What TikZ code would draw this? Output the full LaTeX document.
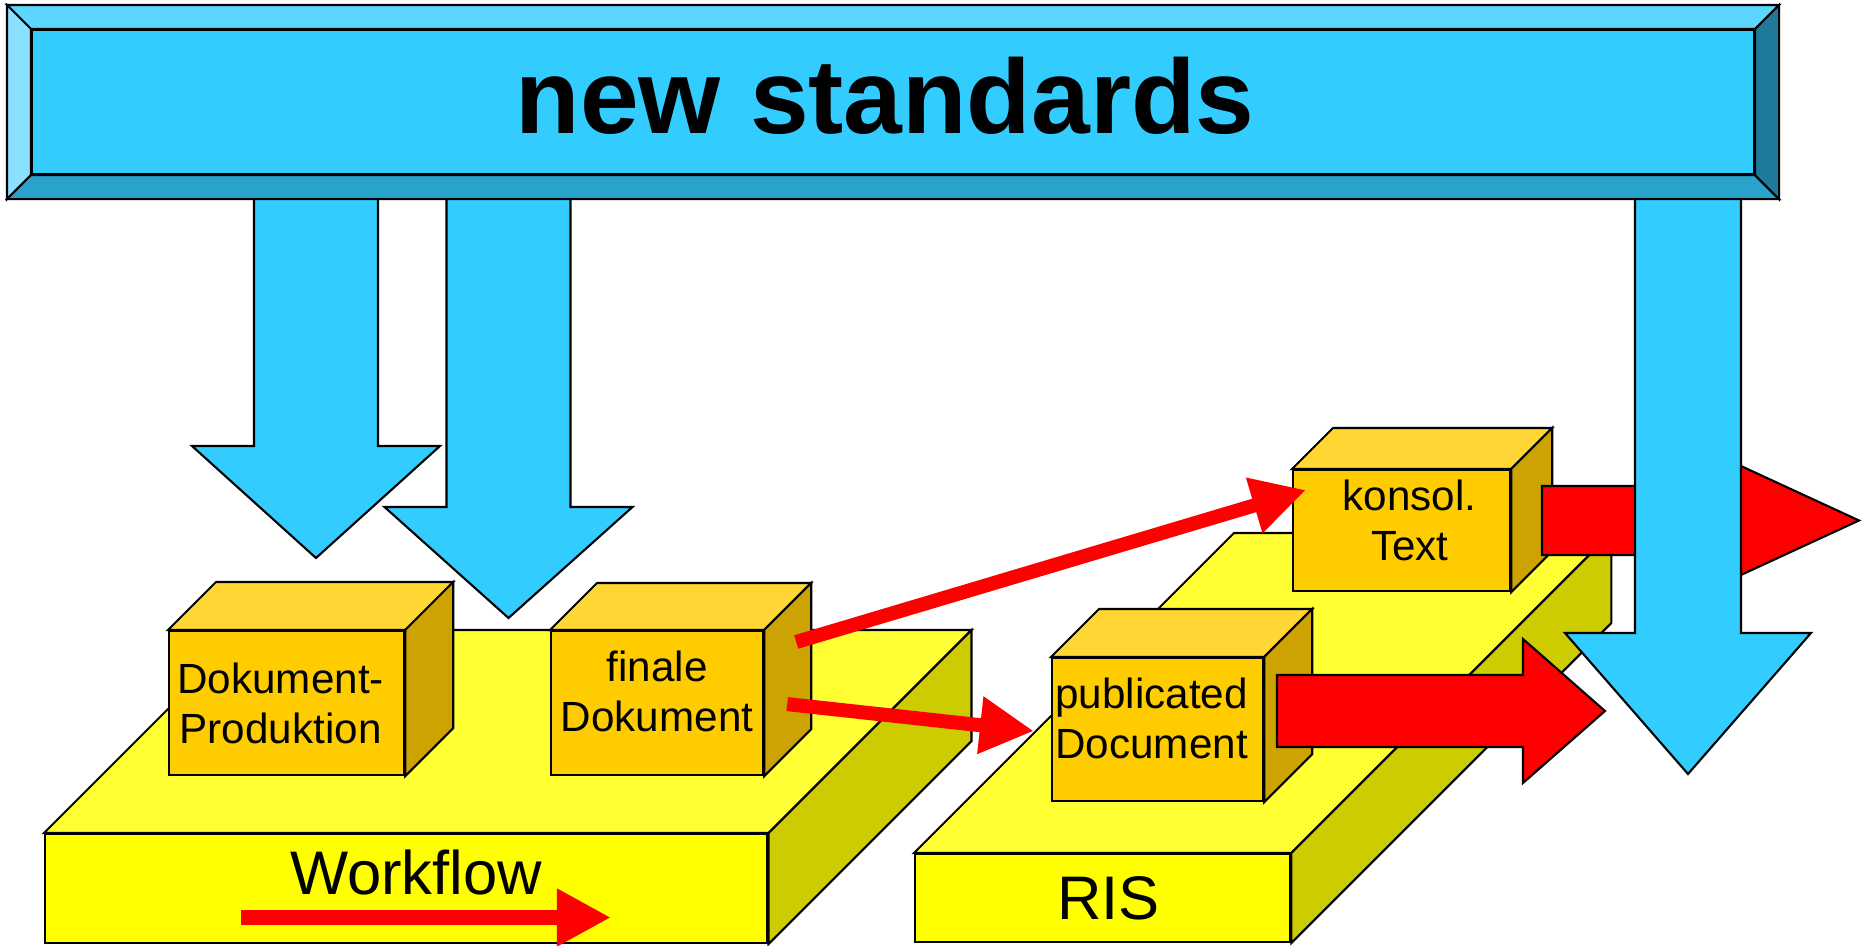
\documentclass[tikz,border=0pt]{standalone}
\usepackage{fontspec}
\setmainfont{Liberation Sans}
\usetikzlibrary{arrows.meta,positioning,calc}
\definecolor{skyblue}{HTML}{33CCFF}
\definecolor{bevtop}{HTML}{5CD6FF}
\definecolor{bevleft}{HTML}{8AE0FF}
\definecolor{bevbot}{HTML}{29A3CC}
\definecolor{bevright}{HTML}{1F7A99}
\definecolor{plfront}{HTML}{FFFF00}
\definecolor{pltop}{HTML}{FFFF33}
\definecolor{plside}{HTML}{CCCC00}
\definecolor{cbfront}{HTML}{FFCC00}
\definecolor{cbtop}{HTML}{FFD633}
\definecolor{cbside}{HTML}{CCA300}
\definecolor{arrred}{HTML}{FF0000}
\newcommand{\smallfont}{\fontsize{12}{14.2}\selectfont}
\newcommand{\bigfont}{\fontsize{17.5}{21}\selectfont}
% top and side face behind a front node: node, depth, top colour, side colour
\newcommand{\extrude}[4]{%
  \draw[face,fill=#3] (#1.north west) -- ++(#2,-#2) -- ($(#1.north east)+(#2,-#2)$) -- (#1.north east) -- cycle;
  \draw[face,fill=#4] (#1.north east) -- ++(#2,-#2) -- ($(#1.south east)+(#2,-#2)$) -- (#1.south east) -- cycle;
}
% block arrows: start/centre, shaft half width, head base, head half width, tip
\newcommand{\downblock}[6]{%
  \draw[face,fill=skyblue] (#1-#3,#2) -- (#1-#3,#4) -- (#1-#5,#4) -- (#1,#6) -- (#1+#5,#4) -- (#1+#3,#4) -- (#1+#3,#2) -- cycle;
}
\newcommand{\rightblock}[6]{%
  \draw[face,fill=arrred] (#1,#2-#3) -- (#4,#2-#3) -- (#4,#2-#5) -- (#6,#2) -- (#4,#2+#5) -- (#4,#2+#3) -- (#1,#2+#3) -- cycle;
}
\tikzset{
  face/.style={draw, line width=0.6pt},
  platfront/.style={face, fill=plfront, inner sep=0pt, anchor=north west, font=\bigfont},
  cubefront/.style={face, fill=cbfront, inner sep=0pt, anchor=north west},
  cubetext/.style={inner sep=0pt, align=center, font=\smallfont},
  flow/.style={draw=arrred, line width=0.14cm, -{Triangle[length=0.54cm,width=0.54cm]}},
}
\begin{document}
\begin{tikzpicture}[x=0.01cm,y=-0.01cm]
\useasboundingbox (0,0) rectangle (1865,946);

% Workflow platform
\node[platfront, minimum width=7.22cm, minimum height=1.09cm] (wf) at (44,833) {};
\extrude{wf}{203}{pltop}{plside}
\node[font=\bigfont, inner sep=0pt, below=4.5pt of wf.north, xshift=2.8pt] (wflabel) {Workflow};
\node[cubefront, minimum width=2.35cm, minimum height=1.44cm,
  label={[cubetext, name=dp-t, xshift=-1.7pt]center:{Dokument-\\Produktion}}] (dp) at (168,630) {};
\extrude{dp}{48}{cbtop}{cbside}
\node[cubefront, minimum width=2.12cm, minimum height=1.44cm,
  label={[cubetext, name=fd-t, yshift=3.4pt]center:{finale\\Dokument}}] (fd) at (550,630) {};
\extrude{fd}{47}{cbtop}{cbside}
\coordinate (wf-a) at (241,917.5);
\coordinate (wf-b) at (611,917.5);
\draw[flow, line width=0.15cm] (wf-a) -- (wf-b);

% RIS platform
\node[platfront, minimum width=3.75cm, minimum height=0.88cm,
  label={[font=\bigfont, name=ris-t, xshift=1.7pt]center:RIS}] (ris) at (914,853) {};
\extrude{ris}{320}{pltop}{plside}
\node[cubefront, minimum width=2.11cm, minimum height=1.43cm,
  label={[cubetext, name=pd-t, xshift=-1.7pt, yshift=3.2pt]center:{publicated\\Document}}] (pd) at (1051,657) {};
\extrude{pd}{48}{cbtop}{cbside}
\node[cubefront, minimum width=2.17cm, minimum height=1.21cm,
  label={[cubetext, name=kt-t, xshift=2.3pt, yshift=2.8pt]center:{konsol.\\Text}}] (kt) at (1292,469) {};
\extrude{kt}{41}{cbtop}{cbside}

% outputs of RIS
\rightblock{1277}{711}{36}{1523}{72}{1605}
\rightblock{1542}{520.5}{34.5}{1703}{72}{1859}

% document flow
\coordinate (fd-up) at ($(fd.north east)+(32,12)$);
\coordinate (kt-in) at ($(kt.north west)+(14,21)$);
\coordinate (fd-out) at ($(fd.east)+(23,1)$);
\coordinate (pd-in) at ($(pd.west)+(-17,1.5)$);
\draw[flow] (fd-up) -- (kt-in);
\draw[flow] (fd-out) -- (pd-in);

% standards pushing down
\downblock{316}{190}{62}{446}{124}{558}
\downblock{508.5}{190}{62}{507}{124}{618}
\downblock{1688}{190}{53}{633}{123}{774}

% banner
\node[face, fill=skyblue, inner sep=0pt, anchor=north west, minimum width=17.21cm, minimum height=1.44cm,
  label={[font=\fontsize{30}{36}\selectfont\bfseries, name=title, xshift=-2.3pt, yshift=1.7pt]center:new standards}] (banner) at (31,29) {};
\draw[face,fill=bevtop] (banner.north west) -- ++(-24,-24) -- ($(banner.north east)+(24,-24)$) -- (banner.north east) -- cycle;
\draw[face,fill=bevleft] (banner.north west) -- ++(-24,-24) -- ($(banner.south west)+(-24,24)$) -- (banner.south west) -- cycle;
\draw[face,fill=bevbot] (banner.south west) -- ++(-24,24) -- ($(banner.south east)+(24,24)$) -- (banner.south east) -- cycle;
\draw[face,fill=bevright] (banner.north east) -- ++(24,-24) -- ($(banner.south east)+(24,24)$) -- (banner.south east) -- cycle;
\end{tikzpicture}
\end{document}
